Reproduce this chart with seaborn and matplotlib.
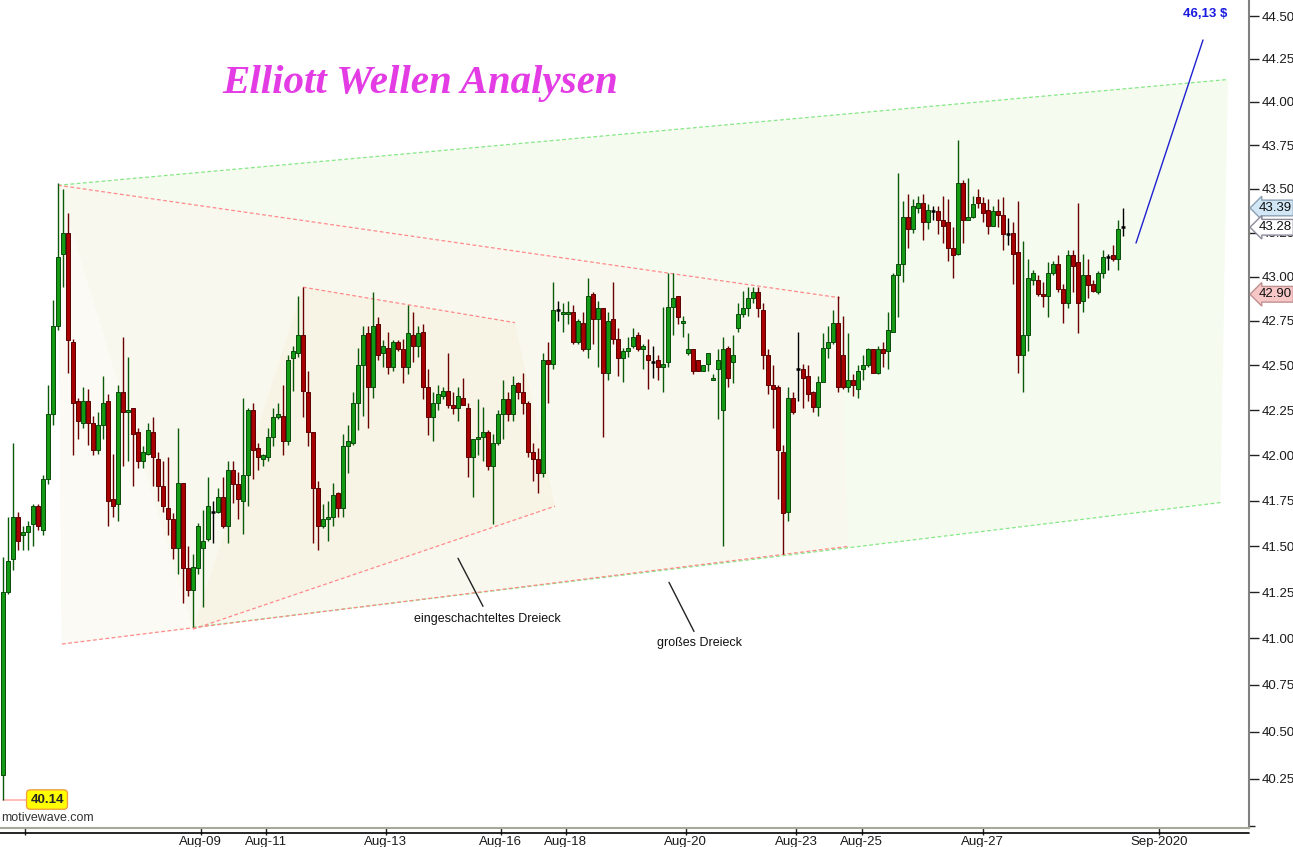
import numpy as np
import pandas as pd
import seaborn as sns
import matplotlib.pyplot as plt
import matplotlib.transforms as mtransforms
from matplotlib.lines import Line2D
from matplotlib.ticker import FixedLocator, FixedFormatter, NullFormatter

# 2-hour candles
opens = [40.27, 41.25, 41.43, 41.66, 41.56, 41.58, 41.62, 41.72, 41.59, 41.87,
         42.23, 42.72, 43.13, 43.25, 42.63, 42.30, 42.18, 42.30, 42.18, 42.03,
         42.17, 42.30, 41.76, 41.73, 42.35, 42.24, 42.26, 42.13, 41.97, 42.01,
         42.13, 41.98, 41.83, 41.71, 41.65, 41.49, 41.85, 41.38, 41.26, 41.38,
         41.49, 41.54, 41.69, 41.69, 41.77, 41.61, 41.92, 41.84, 41.75, 41.89,
         42.25, 42.04, 41.98, 41.99, 42.10, 42.21, 42.22, 42.08, 42.54, 42.57,
         42.67, 42.35, 42.13, 41.82, 41.61, 41.65, 41.66, 41.79, 41.71, 42.05,
         42.07, 42.29, 42.50, 42.68, 42.38, 42.73, 42.57, 42.60, 42.49, 42.63,
         42.59, 42.49, 42.67, 42.61, 42.69, 42.38, 42.21, 42.29, 42.33, 42.36,
         42.28, 42.26, 42.32, 42.26, 41.99, 42.09, 42.10, 42.13, 41.94, 42.07,
         42.23, 42.31, 42.23, 42.40, 42.35, 42.29, 42.02, 41.98, 41.90, 42.53,
         42.51, 42.81, 42.79, 42.79, 42.80, 42.63, 42.74, 42.59, 42.90, 42.76,
         42.82, 42.46, 42.76, 42.65, 42.54, 42.58, 42.61, 42.67, 42.59, 42.56,
         42.52, 42.53, 42.49, 42.52, 42.83, 42.89, 42.74, 42.57, 42.59, 42.53,
         42.47, 42.51, 42.42, 42.48, 42.25, 42.60, 42.52, 42.71, 42.79, 42.82,
         42.88, 42.91, 42.81, 42.56, 42.39, 42.38, 42.02, 41.69, 42.32, 42.48,
         42.48, 42.44, 42.35, 42.27, 42.41, 42.60, 42.63, 42.74, 42.56, 42.38,
         42.42, 42.37, 42.48, 42.50, 42.59, 42.46, 42.59, 42.58, 42.69, 43.01,
         43.07, 43.34, 43.27, 43.39, 43.42, 43.31, 43.37, 43.37, 43.32, 43.31,
         43.16, 43.13, 43.53, 43.32, 43.34, 43.45, 43.42, 43.38, 43.29, 43.37,
         43.35, 43.24, 43.25, 43.14, 42.56, 42.67, 42.98, 42.98, 42.90, 42.89,
         43.02, 43.07, 42.93, 42.85, 43.12, 43.08, 42.86, 43.01, 42.96, 42.91,
         43.02, 43.11, 43.12, 43.10, 43.28]
highs = [41.44, 41.66, 42.07, 41.69, 41.61, 41.64, 41.73, 41.73, 41.89, 42.39,
         42.87, 43.53, 43.50, 43.36, 42.65, 42.32, 42.38, 42.37, 42.22, 42.24,
         42.44, 42.34, 42.01, 42.39, 42.66, 42.55, 42.26, 42.15, 42.05, 42.18,
         42.21, 42.02, 41.97, 41.99, 41.68, 42.15, 41.85, 41.50, 41.46, 41.63,
         41.70, 41.88, 41.75, 41.82, 41.88, 41.97, 41.97, 41.91, 42.32, 42.26,
         42.29, 42.07, 42.01, 42.15, 42.26, 42.29, 42.39, 42.56, 42.61, 42.89,
         42.94, 42.47, 42.13, 41.86, 41.73, 41.75, 41.85, 41.80, 42.12, 42.17,
         42.35, 42.60, 42.72, 42.72, 42.91, 42.77, 42.64, 42.69, 42.64, 42.64,
         42.65, 42.84, 42.80, 42.72, 42.73, 42.48, 42.35, 42.39, 42.38, 42.57,
         42.35, 42.38, 42.43, 42.29, 42.09, 42.31, 42.27, 42.14, 42.12, 42.25,
         42.42, 42.35, 42.44, 42.41, 42.46, 42.30, 42.07, 42.04, 42.57, 42.63,
         42.97, 42.86, 42.85, 42.86, 42.84, 42.76, 42.80, 42.99, 42.91, 42.86,
         42.82, 42.80, 42.97, 42.71, 42.60, 42.66, 42.71, 42.69, 42.62, 42.65,
         42.61, 42.56, 42.83, 43.02, 43.02, 42.89, 42.78, 42.68, 42.59, 42.53,
         42.50, 42.57, 42.45, 42.59, 42.66, 42.61, 42.67, 42.85, 42.92, 42.94,
         42.94, 42.94, 42.85, 42.59, 42.50, 42.39, 42.06, 42.38, 42.35, 42.69,
         42.51, 42.50, 42.36, 42.44, 42.68, 42.72, 42.81, 42.89, 42.78, 42.68,
         42.45, 42.50, 42.56, 42.60, 42.59, 42.61, 42.63, 42.80, 43.02, 43.59,
         43.43, 43.47, 43.44, 43.46, 43.47, 43.41, 43.40, 43.40, 43.46, 43.44,
         43.28, 43.78, 43.55, 43.56, 43.46, 43.50, 43.45, 43.44, 43.40, 43.44,
         43.45, 43.33, 43.31, 43.43, 43.20, 43.10, 43.04, 43.01, 42.97, 43.08,
         43.09, 43.12, 42.96, 43.15, 43.15, 43.42, 43.13, 43.10, 42.98, 43.03,
         43.15, 43.13, 43.18, 43.32, 43.39]
lows = [40.14, 41.24, 41.37, 41.48, 41.48, 41.48, 41.50, 41.59, 41.56, 41.84,
        42.17, 42.70, 42.94, 42.46, 42.00, 42.09, 42.15, 42.06, 42.00, 42.01,
        42.09, 41.61, 41.66, 41.64, 41.94, 41.97, 41.83, 41.93, 41.93, 42.00,
        41.83, 41.75, 41.69, 41.56, 41.43, 41.35, 41.19, 41.23, 41.06, 41.35,
        41.17, 41.53, 41.52, 41.68, 41.60, 41.52, 41.74, 41.65, 41.57, 41.72,
        41.87, 41.92, 41.94, 41.97, 42.05, 42.20, 42.00, 42.06, 42.36, 42.55,
        42.21, 42.05, 41.52, 41.48, 41.60, 41.53, 41.61, 41.66, 41.66, 41.90,
        42.06, 42.14, 42.22, 42.15, 42.32, 42.53, 42.49, 42.45, 42.47, 42.58,
        42.40, 42.45, 42.52, 42.55, 42.31, 42.11, 42.08, 42.25, 42.31, 42.26,
        42.23, 42.19, 42.28, 41.88, 41.77, 42.00, 41.97, 41.92, 41.62, 42.06,
        42.09, 42.19, 42.19, 42.31, 42.23, 41.99, 41.86, 41.79, 41.88, 42.29,
        42.48, 42.75, 42.69, 42.73, 42.62, 42.62, 42.58, 42.54, 42.62, 42.49,
        42.10, 42.42, 42.62, 42.44, 42.41, 42.55, 42.60, 42.58, 42.48, 42.37,
        42.43, 42.42, 42.35, 42.49, 42.67, 42.73, 42.66, 42.56, 42.45, 42.47,
        42.47, 42.47, 42.42, 42.20, 41.50, 42.38, 42.40, 42.69, 42.77, 42.78,
        42.85, 42.77, 42.48, 42.34, 42.15, 41.76, 41.46, 41.64, 42.23, 42.30,
        42.26, 42.30, 42.24, 42.22, 42.41, 42.54, 42.62, 42.35, 42.37, 42.35,
        42.33, 42.32, 42.42, 42.49, 42.46, 42.45, 42.49, 42.48, 42.69, 42.77,
        42.97, 43.16, 43.25, 43.36, 43.21, 43.27, 43.32, 43.24, 43.19, 43.09,
        42.99, 43.12, 43.19, 43.32, 43.33, 43.39, 43.31, 43.24, 43.29, 43.28,
        43.15, 43.18, 42.96, 42.46, 42.35, 42.58, 42.95, 42.89, 42.83, 42.77,
        43.01, 42.91, 42.74, 42.82, 42.91, 42.68, 42.80, 42.88, 42.91, 42.90,
        42.99, 43.04, 43.09, 43.04, 43.23]
closes = [41.25, 41.42, 41.66, 41.53, 41.58, 41.61, 41.72, 41.61, 41.87, 42.23,
          42.72, 43.11, 43.25, 42.64, 42.29, 42.19, 42.30, 42.18, 42.03, 42.17,
          42.29, 41.75, 41.72, 42.35, 42.24, 42.25, 42.12, 41.97, 42.02, 42.14,
          41.99, 41.83, 41.72, 41.65, 41.49, 41.85, 41.38, 41.26, 41.39, 41.61,
          41.53, 41.72, 41.69, 41.77, 41.61, 41.92, 41.84, 41.76, 41.89, 42.25,
          42.03, 41.99, 42.00, 42.10, 42.21, 42.23, 42.08, 42.53, 42.58, 42.67,
          42.36, 42.13, 41.82, 41.61, 41.65, 41.66, 41.78, 41.71, 42.05, 42.08,
          42.29, 42.50, 42.67, 42.38, 42.72, 42.56, 42.61, 42.49, 42.63, 42.59,
          42.49, 42.68, 42.61, 42.68, 42.38, 42.21, 42.29, 42.34, 42.36, 42.28,
          42.26, 42.33, 42.28, 41.99, 42.09, 42.10, 42.13, 41.94, 42.07, 42.23,
          42.31, 42.23, 42.39, 42.35, 42.29, 42.02, 41.98, 41.90, 42.53, 42.51,
          42.81, 42.81, 42.80, 42.80, 42.63, 42.75, 42.59, 42.89, 42.76, 42.82,
          42.46, 42.75, 42.65, 42.54, 42.58, 42.60, 42.66, 42.59, 42.61, 42.53,
          42.52, 42.49, 42.51, 42.83, 42.88, 42.77, 42.75, 42.59, 42.47, 42.47,
          42.50, 42.57, 42.43, 42.53, 42.59, 42.43, 42.56, 42.79, 42.82, 42.88,
          42.91, 42.82, 42.56, 42.39, 42.37, 42.03, 41.68, 42.32, 42.24, 42.48,
          42.43, 42.34, 42.27, 42.41, 42.60, 42.63, 42.74, 42.38, 42.38, 42.42,
          42.39, 42.47, 42.50, 42.59, 42.46, 42.59, 42.57, 42.70, 43.01, 43.07,
          43.34, 43.27, 43.40, 43.42, 43.31, 43.38, 43.37, 43.32, 43.29, 43.16,
          43.12, 43.53, 43.32, 43.34, 43.41, 43.42, 43.36, 43.29, 43.37, 43.35,
          43.24, 43.24, 43.13, 42.56, 42.67, 42.99, 43.02, 42.90, 42.89, 43.02,
          43.07, 42.93, 42.85, 43.12, 43.06, 42.85, 43.01, 42.95, 42.92, 43.02,
          43.11, 43.11, 43.10, 43.27, 43.28]

date_ticks = [4.46, 39.54, 52.54, 76.54, 99.54, 112.54, 136.56, 158.68, 171.76, 195.94, 231.2]
date_labels = ['', 'Aug-09', 'Aug-11', 'Aug-13', 'Aug-16', 'Aug-18', 'Aug-20',
               'Aug-23', 'Aug-25', 'Aug-27', 'Sep-2020']
price_ticks = [40.25, 40.50, 40.75, 41.00, 41.25, 41.50, 41.75, 42.00, 42.25,
               42.50, 42.75, 43.00, 43.25, 43.50, 43.75, 44.00, 44.25, 44.50]

# drawings (bar index, price)
channel_up = ([11, 245], [43.52, 44.13])
channel_low = ([38, 243.5], [41.06, 41.74])
big_up = ([11, 167.4], [43.52, 42.88])
big_low = ([11.8, 169], [40.97, 41.50])
nest_up = ([60, 102.4], [42.94, 42.74])
nest_low = ([38, 110.4], [41.05, 41.72])
target_line = ([226.6, 240], [43.19, 44.36])

df = pd.DataFrame({'open': opens, 'high': highs, 'low': lows, 'close': closes})
df['i'] = np.arange(len(df))
df['dir'] = np.sign(df['close'] - df['open'])

sns.set_style('white')
plt.rcParams['font.family'] = ['Liberation Sans', 'DejaVu Sans']

fig = plt.figure(figsize=(12.93, 8.47), dpi=100)
ax = fig.add_axes([0, 19 / 847, 1249 / 1293, 828 / 847])
ax.set_yscale('log')

# shaded channel and triangles
ax.fill([channel_up[0][0], channel_up[0][1], channel_low[0][1], channel_low[0][0], big_low[0][0]],
        [channel_up[1][0], channel_up[1][1], channel_low[1][1], channel_low[1][0], big_low[1][0]],
        color='#f6fbf0', zorder=0, lw=0)
ax.fill([big_up[0][0], big_up[0][1], big_low[0][1], big_low[0][0]],
        [big_up[1][0], big_up[1][1], big_low[1][1], big_low[1][0]],
        color='#f9f8ef', zorder=0.1, lw=0)
ax.fill([big_up[0][0], nest_low[0][0], big_low[0][0]],
        [big_up[1][0], nest_low[1][0], big_low[1][0]],
        color='#fcfaf4', zorder=0.2, lw=0)
ax.fill([nest_low[0][0], nest_up[0][0], nest_up[0][1], nest_low[0][1]],
        [nest_low[1][0], nest_up[1][0], nest_up[1][1], nest_low[1][1]],
        color='#f8f4e5', zorder=0.3, lw=0)

dash = (0, (3, 2))
for xs, ys, c in [(channel_up[0], channel_up[1], '#86e886'),
                  (channel_low[0], channel_low[1], '#86e886'),
                  (big_up[0], big_up[1], '#ff8a8a'),
                  (big_low[0], big_low[1], '#ff8a8a'),
                  (nest_up[0], nest_up[1], '#ff8a8a'),
                  (nest_low[0], nest_low[1], '#ff8a8a')]:
    sns.lineplot(x=xs, y=ys, ax=ax, color=c, lw=0.9, linestyle=dash, zorder=1)

sns.lineplot(x=target_line[0], y=target_line[1], ax=ax, color='#2020d0', lw=1, zorder=2)

# candles
wick_col = df['dir'].map({1: '#0a5a0a', -1: '#6a0000', 0: '#000000'})
body_col = df['dir'].map({1: '#149a14', -1: '#a80000', 0: '#000000'})
edge_col = df['dir'].map({1: '#0a4a0a', -1: '#5a0000', 0: '#000000'})
ax.vlines(df['i'], df['low'], df['high'], colors=wick_col, lw=1, zorder=3)
body_lo = df[['open', 'close']].min(axis=1)
body_h = (df['close'] - df['open']).abs().clip(lower=0.012)
nz = df['dir'] != 0
ax.bar(df['i'][nz], body_h[nz], bottom=body_lo[nz], width=0.66,
       color=body_col[nz], edgecolor=edge_col[nz], lw=0.7, zorder=4)
dj = df[df['dir'] == 0]
ax.hlines(dj['close'], dj['i'] - 0.4, dj['i'] + 0.4, colors='black', lw=1.8, zorder=4)

# annotations
ax.text(83.4, 44.107, 'Elliott Wellen Analysen', ha='center', va='center',
        fontsize=29.5, family='Liberation Serif', weight='bold', style='italic', color='#e43ce4')
ax.text(240.4, 44.51, '46,13 $', ha='center', va='center', fontsize=9.5,
        weight='bold', color='#1a1ae0')
ax.plot([91, 96], [41.435, 41.174], color='#222222', lw=1)
ax.text(96.8, 41.103, 'eingeschachteltes Dreieck', ha='center', va='center', fontsize=9, color='#111111')
ax.plot([133.2, 138.2], [41.304, 41.038], color='#222222', lw=1)
ax.text(139.2, 40.973, 'großes Dreieck', ha='center', va='center', fontsize=9, color='#111111')

ax.plot([0, 5.4], [40.14, 40.14], color='#ffb0b0', lw=1.2, zorder=2)
ax.text(8.8, 40.14, '40.14', ha='center', va='center', fontsize=9.5, weight='bold',
        bbox=dict(boxstyle='round,pad=0.28', fc='#ffff00', ec='#f0a040', lw=1), zorder=6)
ax.text(0.001, 0.012, 'motivewave.com', transform=ax.transAxes, ha='left', va='center',
        fontsize=9, color='#333333')

trans = mtransforms.blended_transform_factory(ax.transAxes, ax.transData)
for val, fc, ec in [(43.39, '#d2e7f6', '#8aa0b4'), (43.28, '#ffffff', '#8a8a9a'), (42.90, '#f8c8c8', '#c09090')]:
    ax.text(1.0075, val, f'{val:.2f}', transform=trans, ha='left', va='center', fontsize=9.5,
            color='#111111', clip_on=False, zorder=10,
            bbox=dict(boxstyle='larrow,pad=0.14', fc=fc, ec=ec, lw=1))

# axes
ax.set_xlim(-0.6, 249.2)
ax.set_ylim(39.99, 44.594)
ax.yaxis.tick_right()
ax.yaxis.set_major_locator(FixedLocator(price_ticks))
ax.yaxis.set_major_formatter(FixedFormatter([f'{p:.2f}' for p in price_ticks]))
ax.yaxis.set_minor_locator(FixedLocator([p for p in np.arange(40.05, 44.6, 0.05)
                                         if min(abs(p - t) for t in price_ticks) > 0.01]))
ax.yaxis.set_minor_formatter(NullFormatter())
ax.tick_params(axis='y', which='major', right=True, left=False, length=7, width=1,
               color='#222222', pad=2, labelsize=9.5, labelcolor='#1a1a1a')
ax.tick_params(axis='y', which='minor', right=True, left=False, length=4, width=1, color='#222222')
ax.set_xticks(date_ticks)
ax.set_xticklabels(date_labels)
ax.tick_params(axis='x', which='both', bottom=True, length=5, width=1, color='#222222',
               pad=1, labelsize=9.5, labelcolor='#1a1a1a')
ax.minorticks_on()
ax.xaxis.set_minor_locator(FixedLocator([]))
for s in ['left', 'top']:
    ax.spines[s].set_visible(False)
ax.spines['bottom'].set_color('#a8a898')
ax.spines['bottom'].set_linewidth(1.5)
ax.spines['right'].set_color('#808080')
ax.spines['right'].set_linewidth(1.5)
ax.set_xlabel('')
ax.set_ylabel('')
fig.add_artist(Line2D([0, 1249 / 1293], [14 / 847, 14 / 847], color='black', lw=1.2,
                      transform=fig.transFigure))

fig.savefig('out.png', dpi=100)
